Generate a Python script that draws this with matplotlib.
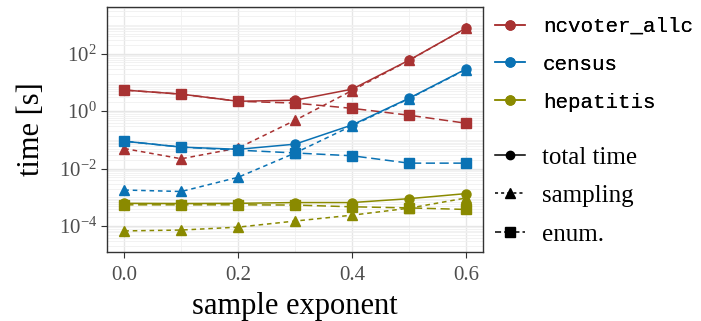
import matplotlib
matplotlib.use('Agg')
import matplotlib.pyplot as plt
from matplotlib.lines import Line2D
from matplotlib.ticker import LogLocator, NullFormatter
import numpy as np

plt.rcParams['font.family'] = 'serif'
plt.rcParams['font.serif'] = ['Liberation Serif', 'DejaVu Serif']
plt.rcParams['mathtext.fontset'] = 'stix'

# data
exponent = [0.0, 0.1, 0.2, 0.3, 0.4, 0.5, 0.6]

ncvoter_total = [5.4, 3.9, 2.2, 2.4, 5.8, 59, 770]
ncvoter_sampling = [0.050, 0.022, 0.052, 0.48, 5.2, 58, 760]
ncvoter_enum = [5.4, 3.9, 2.2, 1.9, 1.25, 0.72, 0.38]

census_total = [0.090, 0.056, 0.047, 0.071, 0.33, 2.8, 29]
census_sampling = [0.0018, 0.0016, 0.0050, 0.035, 0.31, 2.7, 28]
census_enum = [0.090, 0.056, 0.044, 0.035, 0.028, 0.0155, 0.0155]

hepatitis_total = [6.2e-4, 6.1e-4, 6.2e-4, 6.6e-4, 6.6e-4, 9.0e-4, 1.35e-3]
hepatitis_sampling = [6.8e-5, 7.3e-5, 9.2e-5, 1.5e-4, 2.4e-4, 4.2e-4, 9.5e-4]
hepatitis_enum = [5.5e-4, 5.5e-4, 5.5e-4, 5.4e-4, 4.7e-4, 4.3e-4, 3.8e-4]

datasets = ['ncvoter_allc', 'census', 'hepatitis']
colors = ['#A83232', '#0A72B4', '#8A8A00']
series = {
    'ncvoter_allc': (ncvoter_total, ncvoter_sampling, ncvoter_enum),
    'census': (census_total, census_sampling, census_enum),
    'hepatitis': (hepatitis_total, hepatitis_sampling, hepatitis_enum),
}
x_ticks = [0.0, 0.2, 0.4, 0.6]
y_ticks = [1e-4, 1e-2, 1e0, 1e2]

samp_dash = (0, (3, 2.5))
enum_dash = (0, (6, 3))

fig = plt.figure(figsize=(7.01, 3.21), dpi=100)
ax = fig.add_axes([0.153, 0.215, 0.536, 0.763])

for name, c in zip(datasets, colors):
    total, samp, enum = series[name]
    ax.plot(exponent, enum, color=c, linestyle=enum_dash, marker='s',
            markersize=7, linewidth=1.1, zorder=3)
    ax.plot(exponent, samp, color=c, linestyle=samp_dash, marker='^',
            markersize=7, linewidth=1.1, zorder=3)
    ax.plot(exponent, total, color=c, linestyle='-', marker='o',
            markersize=6.5, linewidth=1.1, zorder=3)

ax.set_yscale('log')
ax.set_xlim(-0.03, 0.63)
ax.set_ylim(10**-4.9, 10**3.62)
ax.yaxis.set_minor_locator(LogLocator(base=10, numticks=20,
                                      subs=np.arange(1, 10) * 0.1))
ax.yaxis.set_minor_formatter(NullFormatter())
ax.set_yticks(y_ticks)
ax.set_xticks(x_ticks)
ax.set_xticks([0.1, 0.3, 0.5], minor=True)
ax.set_xticklabels(['%.1f' % v for v in x_ticks])

ax.grid(True, which='major', color='#E6E6E6', linewidth=1.0, zorder=0)
ax.grid(True, which='minor', color='#F0F0F0', linewidth=0.6, zorder=0)
ax.set_axisbelow(True)
ax.tick_params(which='minor', length=0)
ax.tick_params(which='major', length=4, color='#333333', labelsize=15,
               labelcolor='#4D4D4D')
ax.tick_params(axis='x', pad=6)
for s in ax.spines.values():
    s.set_color('#333333')
    s.set_linewidth(1.0)

ax.set_xlabel('sample exponent', fontsize=22, labelpad=5)
ax.set_ylabel('time [s]', fontsize=22, labelpad=9)

# legends
h1 = [Line2D([], [], color=c, marker='o', markersize=6.5, linewidth=1.1)
      for c in colors]
leg1 = fig.legend(h1, datasets, loc='upper left', bbox_to_anchor=(0.706, 0.947),
                  frameon=False, handlelength=1.45, handletextpad=0.85,
                  labelspacing=0.9, borderpad=0, borderaxespad=0,
                  prop={'family': 'Liberation Mono', 'size': 15})
h2 = [Line2D([], [], color='black', marker='o', markersize=6, linewidth=1.1),
      Line2D([], [], color='black', marker='^', markersize=7, linewidth=1.1,
             linestyle=(0, (2, 2))),
      Line2D([], [], color='black', marker='s', markersize=7, linewidth=1.1,
             linestyle=(0, (4, 2)))]
leg2 = fig.legend(h2, ['total time', 'sampling', 'enum.'], loc='upper left',
                  bbox_to_anchor=(0.706, 0.545), frameon=False,
                  handlelength=1.2, handletextpad=0.7, labelspacing=0.64,
                  borderpad=0, borderaxespad=0,
                  prop={'family': 'serif', 'size': 18})
fig.add_artist(leg1)

fig.savefig('out.png', dpi=100)
